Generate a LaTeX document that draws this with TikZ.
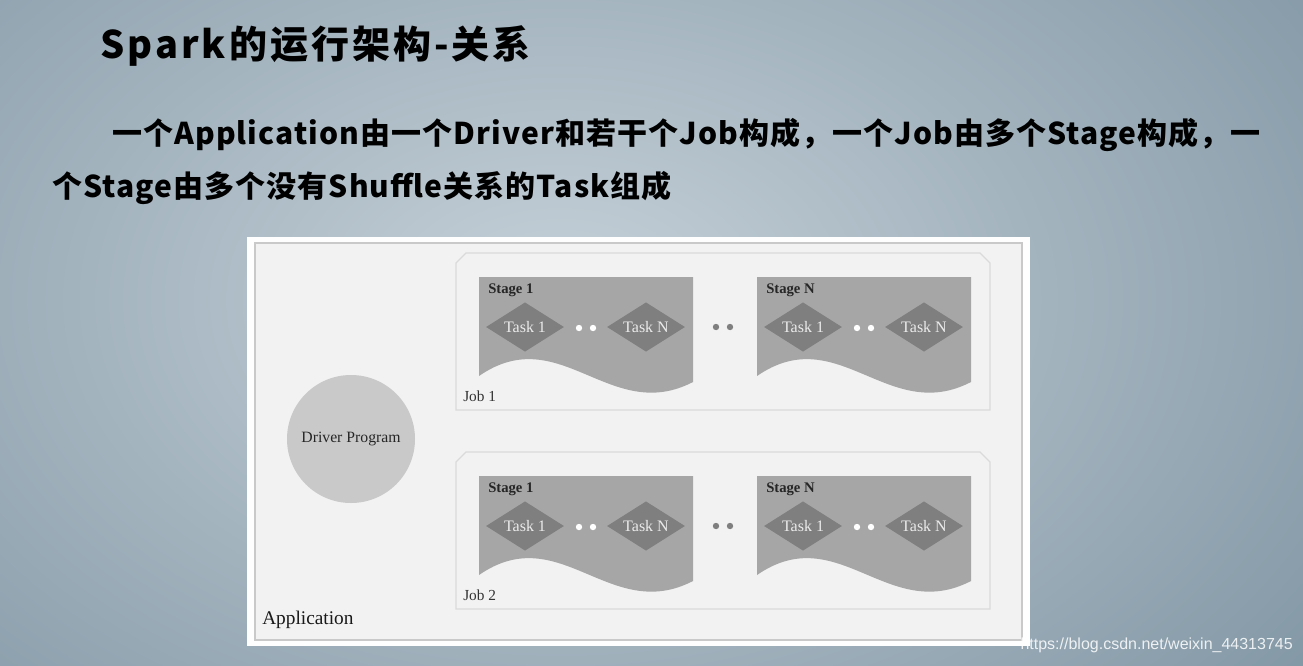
\documentclass[tikz,border=0pt]{standalone}
\usepackage{fontspec}
\setmainfont{Liberation Serif}
\newfontfamily\cjk{Noto Sans CJK SC}
\newfontfamily\cjkwide{Noto Sans CJK SC}[LetterSpace=8]
\newfontfamily\cjkbody{Noto Sans CJK SC}[LetterSpace=3.6]
\newfontfamily\wmfont{Liberation Sans}
\usetikzlibrary{positioning, fit, shapes.geometric}
\definecolor{bgdark}{HTML}{5A7586}
\definecolor{bglight}{HTML}{C6D1D9}
\definecolor{panelfill}{HTML}{F2F2F2}
\definecolor{panelline}{HTML}{C9C9C9}
\definecolor{jobline}{HTML}{DADADA}
\definecolor{stagefill}{HTML}{A6A6A6}
\definecolor{taskfill}{HTML}{7F7F7F}
\definecolor{driverfill}{HTML}{C9C9C9}

\begin{document}
\begin{tikzpicture}[x=0.75pt, y=-0.75pt,
		heading/.style={anchor=west, inner sep=0pt, font=\cjkwide\bfseries\fontsize{28.5}{30}\selectfont},
		bodyline/.style={anchor=west, inner sep=0pt, font=\cjkbody\bfseries\fontsize{22.5}{24}\selectfont},
		jobbox/.style={draw=jobline, line width=1pt, fill=panelfill},
		stagebox/.style={fill=stagefill},
		stagelabel/.style={anchor=west, inner sep=0pt, text=black!85, font=\bfseries\fontsize{11}{12}\selectfont},
		joblabel/.style={anchor=west, inner sep=0pt, text=black!80, font=\fontsize{11.5}{12}\selectfont},
		task/.style={diamond, aspect=1.6, inner sep=0pt, minimum width=58.5pt, minimum height=37pt, fill=taskfill, text=white!92!black, font=\fontsize{12}{13}\selectfont},
		inner dot/.style={fill=white},
		outer dot/.style={fill=taskfill}
	]
	% background
	\begin{scope}
		\clip (0,0) rectangle (1303,665);
		\fill[bgdark] (0,0) rectangle (1303,665);
		\shade[inner color=bglight, outer color=bgdark] (560,300) ellipse (1500 and 1000);
	\end{scope}
	\useasboundingbox (0,0) rectangle (1303,665);

	\node[heading] (title) at (100,46) {Spark的运行架构-关系};
	\node[bodyline] (line1) at (112,135) {一个Application由一个Driver和若干个Job构成，一个Job由多个Stage构成，一};
	\node[bodyline] (line2) at (52,188) {个Stage由多个没有Shuffle关系的Task组成};

	% application panel
	\fill[white!96!panelfill] (247,237) rectangle (1030,646);
	\draw[draw=panelline, fill=panelfill, line width=1pt] (255,243) rectangle (1022,640);

	\foreach \j/\dy in {1/0, 2/199} {
		\draw[jobbox] (456,263+\dy) -- (466,253+\dy) -- (980,253+\dy) -- (990,263+\dy) -- (990,410+\dy) -- (456,410+\dy) -- cycle;
		\node[joblabel] (job\j) at (463,396+\dy) {Job \j};
		\foreach \sx/\s in {0/1, 278/N} {
			\fill[stagebox] (479+\sx,277+\dy) -- (693+\sx,277+\dy) -- (693+\sx,382+\dy)
				.. controls (610+\sx,425+\dy) and (560+\sx,320+\dy) .. (479+\sx,376+\dy) -- cycle;
			\node[stagelabel] (stage\j-\s) at (488+\sx,290+\dy) {Stage \s};
			\node[task] (task\j-\s-1) at (525+\sx,327+\dy) {Task 1};
			\node[task] (task\j-\s-N) at (646+\sx,327+\dy) {Task N};
			\fill[inner dot] (579+\sx,328+\dy) circle (3.2);
			\fill[inner dot] (593+\sx,328+\dy) circle (3.2);
		}
		\fill[outer dot] (716,327+\dy) circle (3.2);
		\fill[outer dot] (730,327+\dy) circle (3.2);
	}

	\node[circle, fill=driverfill, minimum size=96pt, inner sep=0pt, font=\fontsize{11.8}{13}\selectfont, text=black!85] (driver) at (351,439) {Driver Program};
	\node[anchor=west, inner sep=0pt, font=\fontsize{14.5}{16}\selectfont, text=black!90] (app) at (262,620) {Application};

	\node[anchor=east, inner sep=0pt, text=white, opacity=0.85, font=\wmfont\fontsize{12}{13}\selectfont] (mark) at (1293,645) {https://blog.csdn.net/weixin\_44313745};
\end{tikzpicture}
\end{document}
